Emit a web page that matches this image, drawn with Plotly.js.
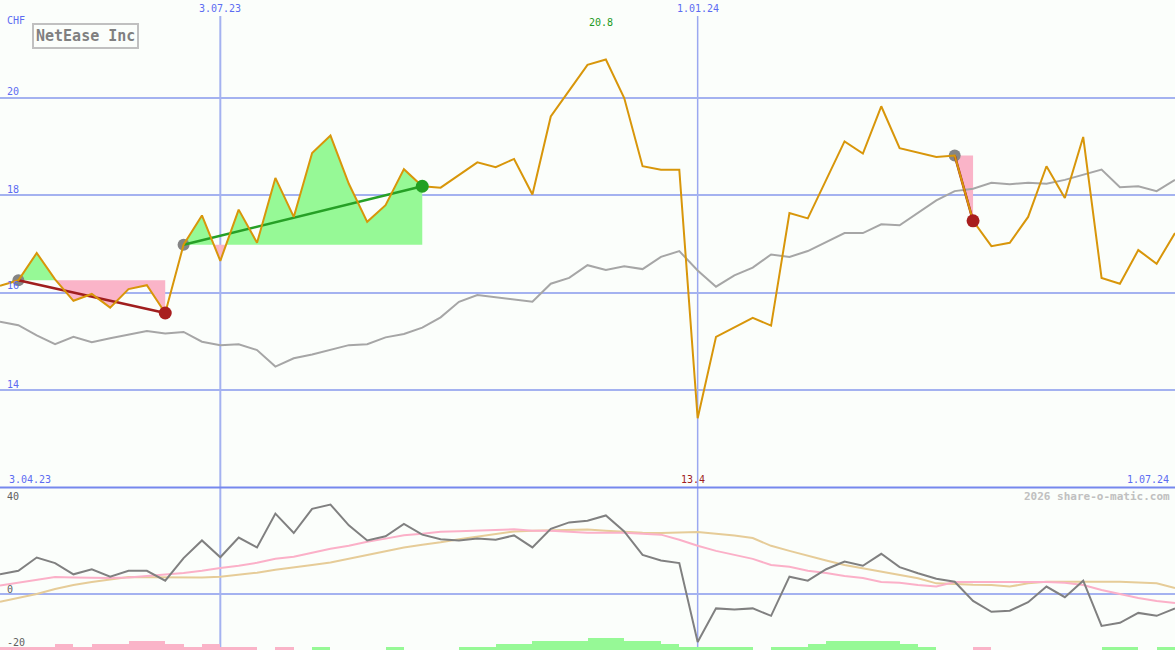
<!DOCTYPE html>
<html>
<head>
<meta charset="utf-8">
<script src="https://cdn.plot.ly/plotly-3.0.1.min.js"></script>
<style>html,body{margin:0;padding:0;background:#fbfefb;}#chart{width:1175px;height:650px;}</style>
</head>
<body>
<div id="chart"></div>
<script>
// weekly dates (Mondays)
const dates = [
 "2023-04-10","2023-04-17","2023-04-24","2023-05-01","2023-05-08","2023-05-15","2023-05-22","2023-05-29",
 "2023-06-05","2023-06-12","2023-06-19","2023-06-26","2023-07-03","2023-07-10","2023-07-17","2023-07-24",
 "2023-07-31","2023-08-07","2023-08-14","2023-08-21","2023-08-28","2023-09-04","2023-09-11","2023-09-18",
 "2023-09-25","2023-10-02","2023-10-09","2023-10-16","2023-10-23","2023-10-30","2023-11-06","2023-11-13",
 "2023-11-20","2023-11-27","2023-12-04","2023-12-11","2023-12-18","2023-12-25","2024-01-01","2024-01-08",
 "2024-01-15","2024-01-22","2024-01-29","2024-02-05","2024-02-12","2024-02-19","2024-02-26","2024-03-04",
 "2024-03-11","2024-03-18","2024-03-25","2024-04-01","2024-04-08","2024-04-15","2024-04-22","2024-04-29",
 "2024-05-06","2024-05-13","2024-05-20","2024-05-27","2024-06-03","2024-06-10","2024-06-17","2024-06-24",
 "2024-07-01"];

// NetEase price in CHF
const price = [16.14,16.25,16.81,16.27,15.83,15.97,15.69,16.07,16.15,15.58,16.98,17.58,16.65,17.70,17.02,18.35,
 17.55,18.86,19.22,18.23,17.45,17.79,18.53,18.18,18.15,18.41,18.67,18.57,18.74,18.01,19.61,20.14,
 20.67,20.78,19.99,18.59,18.52,18.52,13.42,15.09,15.28,15.48,15.32,17.63,17.52,18.30,19.10,18.85,
 19.82,18.96,18.87,18.78,18.81,17.47,16.95,17.02,17.55,18.59,17.94,19.19,16.30,16.18,16.87,16.59,17.22];

// benchmark (grey)
const bench = [15.40,15.33,15.12,14.94,15.09,14.98,15.06,15.14,15.21,15.16,15.19,14.99,14.92,14.94,14.82,14.48,
 14.65,14.73,14.83,14.92,14.94,15.08,15.15,15.28,15.49,15.81,15.95,15.90,15.86,15.81,16.18,16.30,
 16.56,16.46,16.54,16.48,16.73,16.85,16.45,16.12,16.35,16.51,16.78,16.73,16.85,17.04,17.22,17.22,
 17.40,17.38,17.64,17.89,18.08,18.13,18.25,18.22,18.25,18.23,18.31,18.42,18.52,18.16,18.18,18.08,18.31];

// lower panel: momentum (dark grey), fast average (pink), slow average (tan)
const momentum = [7.4,8.7,13.7,11.6,7.4,9.3,6.5,8.7,8.7,5.0,13.5,20.1,13.8,21.2,17.5,30.2,
 22.9,32.0,33.6,25.8,20.1,21.7,26.3,22.3,20.6,20.1,20.8,20.4,22.0,17.5,24.5,26.9,
 27.5,29.5,23.5,14.7,12.6,11.6,-18.0,-5.4,-5.8,-5.4,-8.2,6.5,5.0,9.3,12.2,10.6,
 15.1,10.1,7.8,5.7,4.6,-2.6,-6.7,-6.3,-3.1,2.8,-1.2,5.0,-12.0,-10.8,-7.1,-8.2,-5.4];
const fastAvg = [3.2,4.2,5.3,6.4,6.2,6.0,6.0,6.2,6.8,7.2,7.9,8.7,9.8,10.6,11.7,13.2,
 14.0,15.5,17.0,18.1,19.6,20.8,22.1,22.6,23.4,23.6,23.8,24.0,24.3,23.8,23.8,23.4,
 23.0,23.0,23.0,22.6,22.3,20.4,18.1,16.2,14.7,13.2,10.9,10.2,8.7,7.9,6.8,6.0,
 4.5,4.2,3.4,2.8,4.5,4.5,4.5,4.5,4.5,4.5,4.2,3.4,1.5,0.0,-1.5,-2.6,-3.4];
const slowAvg = [-2.9,-1.5,0.0,1.9,3.4,4.5,5.5,6.4,6.3,6.2,6.2,6.2,6.5,7.2,8.0,9.1,
 10.1,10.9,11.8,13.2,14.7,16.2,17.5,18.5,19.4,20.6,21.6,22.6,23.5,23.8,23.9,24.2,
 24.2,23.8,23.3,23.0,22.9,23.0,23.3,22.6,22.0,21.0,18.1,16.2,14.3,12.6,10.9,9.6,
 8.4,7.2,5.9,4.0,3.7,3.5,3.4,2.8,4.0,4.6,4.6,4.6,4.6,4.6,4.3,4.0,2.2];
// signal strength bars (positive green, negative pink)
const signal = [-1,-1,-1,-2,-1,-2,-2,-3,-3,-2,-1,-2,-1,-1,0,-1,0,1,0,0,0,1,0,0,0,1,1,2,2,3,3,3,
 4,4,3,3,2,1,1,1,1,0,1,1,2,3,3,3,3,2,1,0,0,-1,0,0,0,0,0,0,1,1,0,1,0];

// trend segments: [start index, end index]
const segStart = [1, 10, 52];
const segEnd   = [9, 23, 53];

const title = "NetEase Inc";
const currency = "CHF";
const vLines = ["2023-07-03","2024-01-01"];
const vLineLabels = ["3.07.23","1.01.24"];
const rangeLabels = ["3.04.23","1.07.24"];
const topTicks = [14,16,18,20];
const lowTicks = [40,0,-20];
const credit = "2026 share-o-matic.com";

// ---------------- build ----------------
const DAY = 86400000;
const t = dates.map(d => Date.parse(d));
const GREEN_FILL = "#96f996", PINK_FILL = "#fab4c8";
const traces = [];

for (let s = 0; s < segStart.length; s++) {
  const a = segStart[s], b = segEnd[s], L = price[a];
  const px = [], py = [];
  for (let k = a; k <= b; k++) {
    px.push(t[k]); py.push(price[k]);
    if (k < b) {
      const d1 = price[k] - L, d2 = price[k+1] - L;
      if (d1 * d2 < 0) {
        const f = d1 / (d1 - d2);
        px.push(t[k] + f * (t[k+1] - t[k])); py.push(L);
      }
    }
  }
  const up = py.map(v => Math.max(v, L)), dn = py.map(v => Math.min(v, L));
  traces.push({x: px.concat([px[px.length-1], px[0]]), y: up.concat([L, L]), type:'scatter', mode:'lines',
    fill:'toself', fillcolor: GREEN_FILL, line:{width:0}, hoverinfo:'skip', xaxis:'x', yaxis:'y'});
  traces.push({x: px.concat([px[px.length-1], px[0]]), y: dn.concat([L, L]), type:'scatter', mode:'lines',
    fill:'toself', fillcolor: PINK_FILL, line:{width:0}, hoverinfo:'skip', xaxis:'x', yaxis:'y'});
}

// benchmark
traces.push({x: dates, y: bench, type:'scatter', mode:'lines', line:{color:'#a6a6a6', width:2}, xaxis:'x', yaxis:'y'});

// start markers (grey)
traces.push({x: segStart.map(i => dates[i]), y: segStart.map(i => price[i]), type:'scatter', mode:'markers',
  marker:{color:'#858585', size:12}, xaxis:'x', yaxis:'y'});

// trend lines
for (let s = 0; s < segStart.length; s++) {
  const a = segStart[s], b = segEnd[s];
  const up = price[b] >= price[a];
  traces.push({x:[dates[a], dates[b]], y:[price[a], price[b]], type:'scatter', mode:'lines',
    line:{color: up ? '#26a026' : '#a01e1e', width:2.5}, xaxis:'x', yaxis:'y'});
}

// price line
traces.push({x: dates, y: price, type:'scatter', mode:'lines', line:{color:'#d8960a', width:2}, xaxis:'x', yaxis:'y'});

// end markers
traces.push({x: segEnd.map(i => dates[i]), y: segEnd.map(i => price[i]), type:'scatter', mode:'markers',
  marker:{color: segEnd.map((i, s) => price[i] >= price[segStart[s]] ? '#22a022' : '#a81e1e'), size:13},
  xaxis:'x', yaxis:'y'});

// lower panel
traces.push({x: dates, y: signal.map(Math.abs), type:'bar', offset:0, width:7*DAY,
  marker:{color: signal.map(v => v > 0 ? '#96f996' : '#fab4c8'), line:{width:0}}, xaxis:'x', yaxis:'y3'});
traces.push({x: dates, y: slowAvg, type:'scatter', mode:'lines', line:{color:'#e6cc98', width:2}, xaxis:'x', yaxis:'y2'});
traces.push({x: dates, y: fastAvg, type:'scatter', mode:'lines', line:{color:'#fbb0c8', width:2}, xaxis:'x', yaxis:'y2'});
traces.push({x: dates, y: momentum, type:'scatter', mode:'lines', line:{color:'#808080', width:2}, xaxis:'x', yaxis:'y2'});

const mono = "DejaVu Sans Mono, monospace";
const blue = "#5c6cf2";
const ann = [];
ann.push({xref:'paper', yref:'paper', x:5/1175, y:1-20/650, text:currency, showarrow:false, xanchor:'left', yanchor:'middle', font:{family:mono, size:10, color:blue}});
ann.push({xref:'paper', yref:'paper', x:32/1175, y:1-36/650, text:title, showarrow:false, xanchor:'left', yanchor:'middle',
  font:{family:mono, size:15, color:'#808080', weight:'bold'}, bordercolor:'#c0c0c0', borderwidth:2, borderpad:2, bgcolor:'#fbfefb'});
const topPx = {20:91, 18:189, 16:286, 14:384};
topTicks.forEach(v => ann.push({xref:'paper', yref:'paper', x:5/1175, y:1-topPx[v]/650, text:String(v), showarrow:false,
  xanchor:'left', yanchor:'middle', font:{family:mono, size:10, color:blue}}));
const lowPx = {40:496, 0:589, "-20":642};
lowTicks.forEach(v => ann.push({xref:'paper', yref:'paper', x:5/1175, y:1-lowPx[v]/650, text:String(v), showarrow:false,
  xanchor:'left', yanchor:'middle', font:{family:mono, size:10, color:'#606060'}}));
vLines.forEach((d, i) => ann.push({xref:'x', yref:'paper', x:d, y:1-9/650, text:vLineLabels[i], showarrow:false,
  xanchor:'center', yanchor:'middle', font:{family:mono, size:10, color:blue}}));
ann.push({xref:'paper', yref:'paper', x:7/1175, y:1-479/650, text:rangeLabels[0], showarrow:false, xanchor:'left', yanchor:'middle', font:{family:mono, size:10, color:blue}});
ann.push({xref:'paper', yref:'paper', x:1171/1175, y:1-479/650, text:rangeLabels[1], showarrow:false, xanchor:'right', yanchor:'middle', font:{family:mono, size:10, color:blue}});
ann.push({xref:'paper', yref:'paper', x:1172/1175, y:1-496/650, text:credit, showarrow:false, xanchor:'right', yanchor:'middle', font:{family:mono, size:11, color:'#c0c0c0', weight:'bold'}});
// max / min labels
const maxI = price.indexOf(Math.max(...price)), minI = price.indexOf(Math.min(...price));
ann.push({xref:'x', yref:'paper', x:dates[maxI], xshift:-5, y:1-22/650, text:price[maxI].toFixed(1), showarrow:false, xanchor:'center', yanchor:'middle', font:{family:mono, size:10, color:'#229922'}});
ann.push({xref:'x', yref:'paper', x:dates[minI], xshift:-5, y:1-479/650, text:price[minI].toFixed(1), showarrow:false, xanchor:'center', yanchor:'middle', font:{family:mono, size:10, color:'#a01e1e'}});

const shapes = [
  {type:'line', xref:'x', yref:'paper', x0:vLines[0], x1:vLines[0], y0:0, y1:1-16/650, line:{color:'#a4b2f0', width:2}, layer:'below'},
  {type:'line', xref:'x', yref:'paper', x0:vLines[1], x1:vLines[1], y0:0, y1:1-16/650, line:{color:'#9aa8f0', width:1.5}, layer:'below'},
  {type:'line', xref:'paper', yref:'paper', x0:0, x1:1, y0:0.25, y1:0.25, line:{color:'#7688ee', width:2}, layer:'above'}
];

const layout = {
  width:1175, height:650, margin:{l:0, r:0, t:0, b:0, pad:0},
  paper_bgcolor:'#fbfefb', plot_bgcolor:'#fbfefb', showlegend:false, bargap:0,
  xaxis:{type:'date', range:[dates[0], dates[dates.length-1]], showgrid:false, zeroline:false, showticklabels:false, fixedrange:true},
  yaxis:{domain:[0.25, 1], range:[12, 22], tickvals:topTicks, showticklabels:false, gridcolor:'#a4b2f0', gridwidth:2, zeroline:false},
  yaxis2:{domain:[0, 0.25], range:[-21.03, 40], tickvals:[0], showticklabels:false, gridcolor:'#a4b2f0', gridwidth:2, zeroline:false},
  yaxis3:{overlaying:'y2', range:[0, 54.2], showgrid:false, showticklabels:false, zeroline:false},
  annotations: ann, shapes: shapes
};
Plotly.newPlot('chart', traces, layout, {displayModeBar:false, staticPlot:true});
</script>
</body>
</html>
